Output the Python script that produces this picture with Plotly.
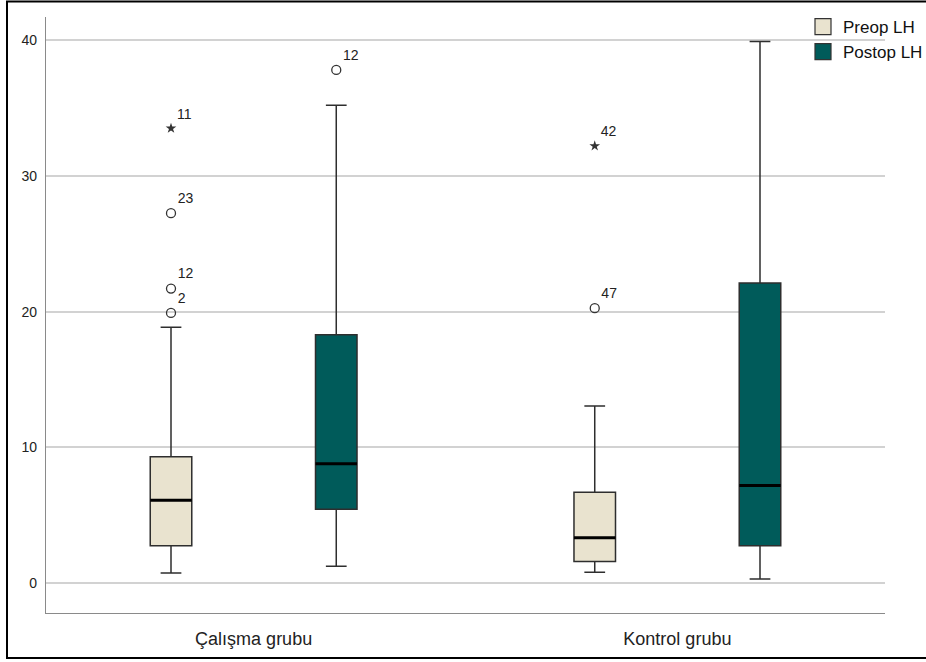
import plotly.graph_objects as go

# Groups and series
groups = ["Çalışma grubu", "Kontrol grubu"]
series = ["Preop LH", "Postop LH"]

# Box statistics per series, one value per group
preop_low = [0.75, 0.8]
preop_q1 = [2.75, 1.6]
preop_med = [6.1, 3.35]
preop_q3 = [9.3, 6.7]
preop_high = [18.85, 13.05]

postop_low = [1.25, 0.3]
postop_q1 = [5.45, 2.75]
postop_med = [8.8, 7.2]
postop_q3 = [18.3, 22.1]
postop_high = [35.2, 39.9]

# Outliers: group index, value, case id, extreme flag
preop_out_group = [0, 0, 0, 0, 1, 1]
preop_out_value = [19.9, 21.7, 27.25, 33.5, 20.25, 32.2]
preop_out_id = ["2", "12", "23", "11", "47", "42"]
preop_out_extreme = [False, False, False, True, False, True]

postop_out_group = [0]
postop_out_value = [37.8]
postop_out_id = ["12"]
postop_out_extreme = [False]

colors = {"Preop LH": "#E9E3CF", "Postop LH": "#005B5A"}
outline = "#2E2E2E"
offset = {"Preop LH": -0.195, "Postop LH": 0.195}
box_w = 0.098

stats = {
    "Preop LH": (preop_low, preop_q1, preop_med, preop_q3, preop_high),
    "Postop LH": (postop_low, postop_q1, postop_med, postop_q3, postop_high),
}
outliers = {
    "Preop LH": (preop_out_group, preop_out_value, preop_out_id, preop_out_extreme),
    "Postop LH": (postop_out_group, postop_out_value, postop_out_id, postop_out_extreme),
}

fig = go.Figure()

for s in series:
    low, q1, med, q3, high = stats[s]
    xs = [g + offset[s] for g in range(len(groups))]
    fig.add_trace(go.Box(
        x=xs, q1=q1, median=med, q3=q3, lowerfence=low, upperfence=high,
        width=box_w, whiskerwidth=0.5, fillcolor=colors[s],
        line=dict(color=outline, width=1.5), boxpoints=False,
        showlegend=False, hoverinfo="skip",
    ))
    # thicker median line drawn on top
    fig.add_trace(go.Box(
        x=xs, q1=med, median=med, q3=med, lowerfence=med, upperfence=med,
        width=box_w, whiskerwidth=0, fillcolor="rgba(0,0,0,0)",
        line=dict(color="#000000", width=3), boxpoints=False,
        showlegend=False, hoverinfo="skip",
    ))

    og, ov, oid, oext = outliers[s]
    for extreme in (False, True):
        idx = [i for i in range(len(ov)) if oext[i] == extreme]
        if not idx:
            continue
        fig.add_trace(go.Scatter(
            x=[og[i] + offset[s] for i in idx], y=[ov[i] for i in idx],
            mode="markers+text", text=[oid[i] for i in idx],
            textposition="top right",
            textfont=dict(family="Liberation Sans, Arial", size=14, color="#222222"),
            marker=dict(
                symbol="star" if extreme else "circle-open",
                size=8 if extreme else 9,
                color="#333333",
                line=dict(color="#333333", width=1.3 if not extreme else 0),
            ),
            showlegend=False, hoverinfo="skip",
        ))

# Legend entries as square swatches
for s in series:
    fig.add_trace(go.Scatter(
        x=[None], y=[None], mode="markers", name=s,
        marker=dict(symbol="square", size=18, color=colors[s],
                    line=dict(color="#333333", width=1.2)),
    ))

fig.update_layout(
    width=926, height=662,
    margin=dict(l=46, r=41, t=17, b=49, autoexpand=False),
    paper_bgcolor="white", plot_bgcolor="white",
    font=dict(family="Liberation Sans, Arial", color="#222222"),
    showlegend=True,
    legend=dict(x=(803 - 46) / 839, y=(613 - 9) / 596, xanchor="left", yanchor="top",
                bgcolor="rgba(0,0,0,0)", font=dict(size=17, color="#111111"),
                itemsizing="trace", tracegroupgap=0, borderwidth=0),
    xaxis=dict(
        range=[-0.49, 1.49], tickvals=list(range(len(groups))), ticktext=groups,
        showgrid=False, zeroline=False, showline=True, linecolor="#8A8A8A",
        linewidth=1.2, ticks="outside", ticklen=9, tickcolor="rgba(0,0,0,0)",
        tickfont=dict(size=18, color="#222222"),
    ),
    yaxis=dict(
        range=[-2.2, 41.7], tickvals=[0, 10, 20, 30, 40],
        showgrid=True, gridcolor="#D2D2D2", gridwidth=1.5, zeroline=False,
        showline=True, linecolor="#8A8A8A", linewidth=1.2,
        ticks="outside", ticklen=5, tickcolor="rgba(0,0,0,0)",
        tickfont=dict(size=14, color="#222222"),
    ),
    shapes=[dict(
        type="rect", xref="paper", yref="paper",
        x0=(7 - 46) / 839, x1=(935 - 46) / 839,
        y0=(613 - 658) / 596, y1=(613 - 1.5) / 596,
        line=dict(color="#000000", width=2), layer="below",
    )],
)

fig.write_html("out.html")
